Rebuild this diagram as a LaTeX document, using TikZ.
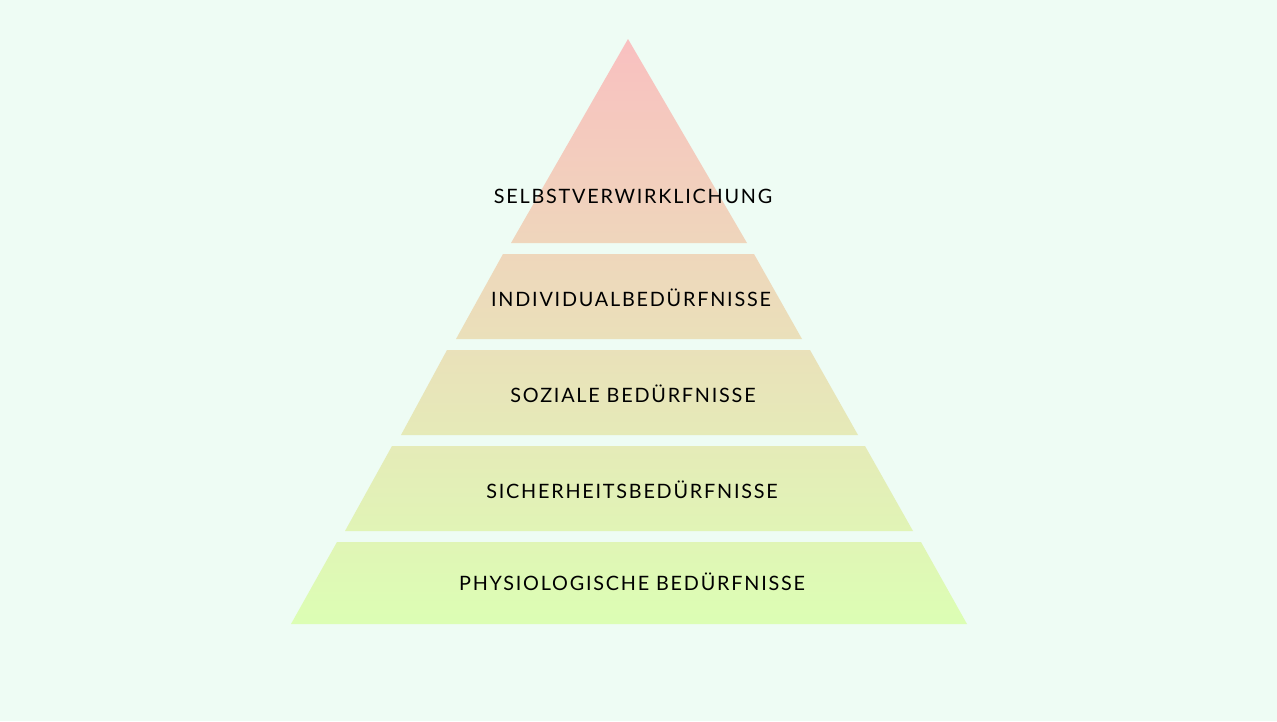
\documentclass[tikz,border=0pt]{standalone}
\usepackage{fontspec}
\setmainfont{Lato}[LetterSpace=9]
\definecolor{bg}{HTML}{EEFCF4}
\definecolor{topc}{HTML}{F9C0C0}
\definecolor{botc}{HTML}{DCFEB4}
\begin{document}
\begin{tikzpicture}[x=1pt,y=-1pt,lbl/.style={font=\fontsize{19.8}{21}\selectfont,text=black,inner sep=0}]
\fill[bg] (0,0) rectangle (1277,721);
\useasboundingbox (0,0) rectangle (1277,721);
\shade[top color=topc,bottom color=botc]
 (628,39) -- (747,243) -- (511,243) -- cycle
 (503,254) -- (754,254) -- (802,339) -- (456,339) -- cycle
 (447,350) -- (810,350) -- (858,435) -- (401,435) -- cycle
 (392,446) -- (865,446) -- (913,531) -- (345,531) -- cycle
 (337,542) -- (921,542) -- (967,624) -- (291,624) -- cycle;
\node[lbl] (l1) at (633,196) {SELBSTVERWIRKLICHUNG};
\node[lbl] (l2) at (631,298) {INDIVIDUALBEDÜRFNISSE};
\node[lbl] (l3) at (633,394) {SOZIALE BEDÜRFNISSE};
\node[lbl] (l4) at (632,490) {SICHERHEITSBEDÜRFNISSE};
\node[lbl] (l5) at (632,582) {PHYSIOLOGISCHE BEDÜRFNISSE};
\end{tikzpicture}
\end{document}
